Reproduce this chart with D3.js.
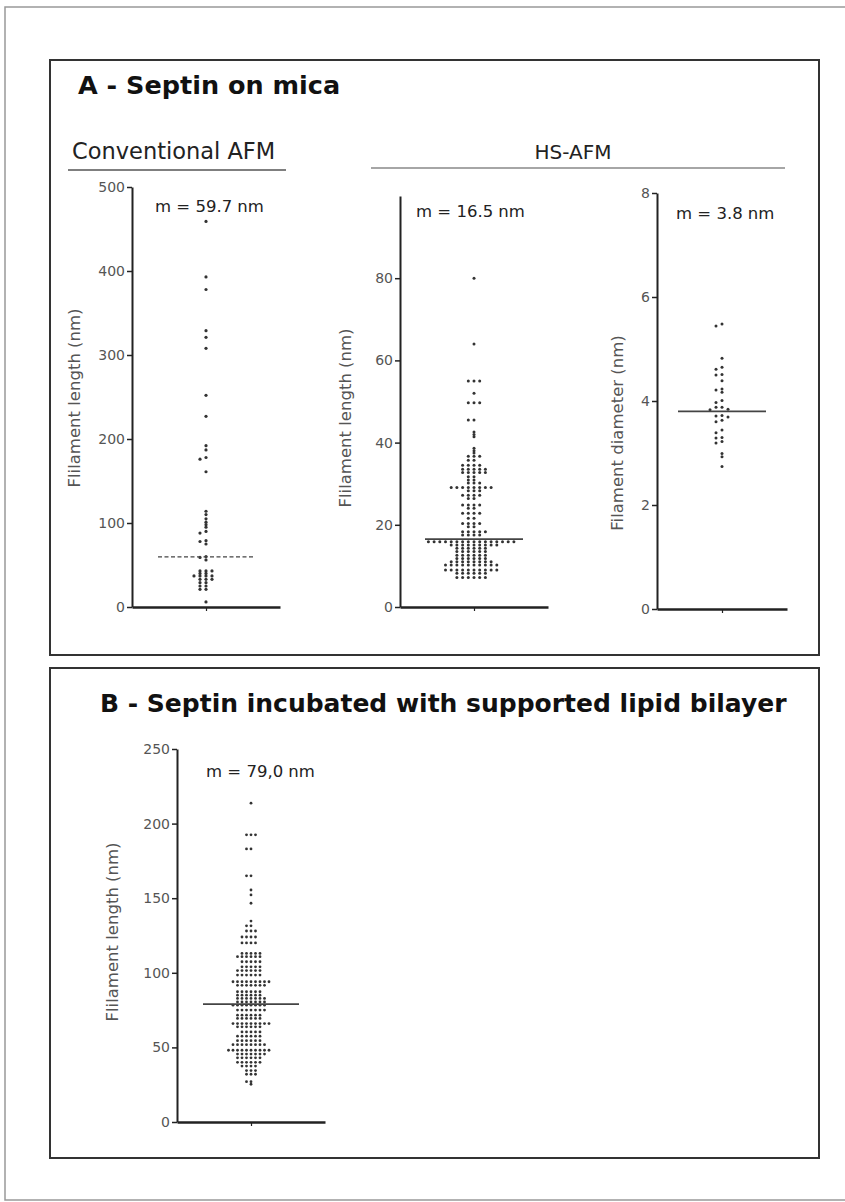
<!DOCTYPE html>
<html>
<head>
<meta charset="utf-8">
<script src="https://cdn.jsdelivr.net/npm/d3@7"></script>
<style>
  body { margin: 0; background: #fff; }
  svg text { font-family: "DejaVu Sans", Verdana, sans-serif; }
</style>
</head>
<body>
<svg id="fig" width="845" height="1202"></svg>
<script>
// values (nm)
var convLength = [459, 393, 378, 329, 321, 308, 252, 227, 192, 187, 178, 176, 161,
  114, 110, 105, 101, 98, 95, 90, 88, 79, 78, 75, 60, 59, 56,
  43, 43, 43, 40, 40, 37, 37, 37, 37, 33, 33, 33, 29, 29, 25, 25, 21, 21, 6];
var convMean = 59.7;

var hsLength = [80, 64, 55, 55, 55, 52, 49.7, 49.7, 49.7, 45.5, 45.5, 42.6, 42, 41.4, 38.6, 38, 37.5,
  36.7, 36.7, 36.7, 35.7, 35.7, 34.5, 34.5, 34.5, 34.5,
  33.5, 33.5, 33.5, 33.5, 33.5, 32.7, 32.7, 32.7, 32.7, 32.7,
  31.7, 31.7, 30.9, 30.9, 30.2, 30.2, 30.2,
  29.1, 29.1, 29.1, 29.1, 29.1, 29.1, 29.1, 29.1, 28.3, 28.3, 28.3,
  27.2, 27.2, 27.2, 27.2, 26.4, 26.4, 24.8, 24.8, 24.8, 24.8, 24, 24,
  22.8, 22.8, 22.8, 22.8, 21.6, 21.6, 20.3, 20.3, 20.3, 20.3, 19.5, 19.5,
  18.3, 18.3, 18.3, 18.3, 18.3, 17.5, 17.5, 17.5, 17.5,
  15.9, 15.9, 15.9, 15.9, 15.9, 15.9, 15.9, 15.9, 15.9, 15.9, 15.9, 15.9, 15.9, 15.9, 15.9, 15.9,
  15.1, 15.1, 15.1, 15.1, 15.1, 15.1, 15.1, 15.1, 15.1,
  14.3, 14.3, 14.3, 14.3, 14.3, 14.3, 13.5, 13.5, 13.5, 13.5, 13.5, 13.5,
  12.6, 12.6, 12.6, 12.6, 12.6, 12.6, 11.8, 11.8, 11.8, 11.8, 11.8, 11.8,
  11, 11, 11, 11, 11, 11, 11, 11,
  10.2, 10.2, 10.2, 10.2, 10.2, 10.2, 10.2, 10.2, 10.2, 10.2,
  9, 9, 9, 9, 9, 9, 9, 9, 9, 9,
  8.2, 8.2, 8.2, 8.2, 8.2, 8.2, 7.2, 7.2, 7.2, 7.2, 7.2, 7.2];
var hsLengthMean = 16.5;

var hsDiameter = [5.48, 5.44, 4.82, 4.65, 4.61, 4.51, 4.5, 4.39, 4.23, 4.21, 4.17, 4.01, 3.97,
  3.88, 3.88, 3.84, 3.83, 3.72, 3.71, 3.69, 3.63, 3.6, 3.44, 3.39, 3.3, 3.29, 3.22, 3.19,
  2.99, 2.93, 2.74];
var hsDiameterMean = 3.8;

var bilayerLength = [213.7, 192.5, 192.5, 192.5, 183, 183, 165, 165, 155.5, 152.2, 146.6, 134.7,
  131.5, 131.5, 128, 128, 128, 124, 124, 124, 124, 120, 120, 120, 120,
  113, 113, 113, 113, 113, 110.8, 110.8, 110.8, 110.8, 110.8, 110.8,
  107.4, 107.4, 107.4, 107.4, 107.4, 104, 104, 104, 104, 104,
  101.5, 101.5, 101.5, 101.5, 101.5, 101.5, 98.5, 98.5, 98.5, 98.5, 98.5, 98.5,
  94, 94, 94, 94, 94, 94, 94, 94, 94, 91.6, 91.6, 91.6, 91.6, 91.6, 91.6, 91.6,
  87.3, 87.3, 87.3, 87.3, 87.3, 87.3, 85, 85, 85, 85, 85, 85,
  82.8, 82.8, 82.8, 82.8, 82.8, 82.8, 82.8, 80.5, 80.5, 80.5, 80.5, 80.5, 80.5, 80.5,
  78.3, 78.3, 78.3, 78.3, 78.3, 78.3, 78.3, 78.3, 75, 75, 75, 75, 75, 75, 75,
  71.6, 71.6, 71.6, 71.6, 71.6, 71.6, 69.4, 69.4, 69.4, 69.4, 69.4, 69.4,
  66, 66, 66, 66, 66, 66, 66, 66, 66, 63.8, 63.8, 63.8, 63.8, 63.8, 63.8,
  60.4, 60.4, 60.4, 60.4, 60.4, 57.5, 57.5, 57.5, 57.5, 57.5, 57.5,
  54.5, 54.5, 54.5, 54.5, 54.5, 54.5, 51.8, 51.8, 51.8, 51.8, 51.8, 51.8, 51.8, 51.8,
  48.1, 48.1, 48.1, 48.1, 48.1, 48.1, 48.1, 48.1, 48.1, 48.1,
  45.5, 45.5, 45.5, 45.5, 45.5, 45.5, 45.5, 43, 43, 43, 43, 43, 43,
  40, 40, 40, 40, 40, 40, 37.5, 37.5, 37.5, 37.5, 34.5, 34.5, 34.5, 32, 32, 32, 27, 27, 25.3];
var bilayerMean = 79.0;

var convTicks = [0, 100, 200, 300, 400, 500];
var hsLengthTicks = [0, 20, 40, 60, 80];
var hsDiameterTicks = [0, 2, 4, 6, 8];
var bilayerTicks = [0, 50, 100, 150, 200, 250];

var svg = d3.select("#fig");

// frames
svg.append("rect").attr("x", 5).attr("y", 7).attr("width", 850).attr("height", 1193)
  .attr("fill", "none").attr("stroke", "#999").attr("stroke-width", 1.5);
svg.append("rect").attr("x", 50).attr("y", 60).attr("width", 769).attr("height", 595)
  .attr("fill", "none").attr("stroke", "#333").attr("stroke-width", 2);
svg.append("rect").attr("x", 50).attr("y", 668).attr("width", 769).attr("height", 490)
  .attr("fill", "none").attr("stroke", "#333").attr("stroke-width", 2);

svg.append("text").attr("x", 78).attr("y", 94).attr("font-size", 25.5).attr("font-weight", "bold")
  .attr("fill", "#111").text("A - Septin on mica");
svg.append("text").attr("x", 100).attr("y", 712).attr("font-size", 25).attr("font-weight", "bold")
  .attr("fill", "#111").text("B - Septin incubated with supported lipid bilayer");

svg.append("text").attr("x", 72).attr("y", 159).attr("font-size", 22.5).attr("fill", "#222")
  .text("Conventional AFM");
svg.append("line").attr("x1", 68).attr("x2", 286).attr("y1", 170).attr("y2", 170)
  .attr("stroke", "#555").attr("stroke-width", 1.5);
svg.append("text").attr("x", 573).attr("y", 159).attr("font-size", 20).attr("fill", "#222")
  .attr("text-anchor", "middle").text("HS-AFM");
svg.append("line").attr("x1", 371).attr("x2", 785).attr("y1", 168).attr("y2", 168)
  .attr("stroke", "#888").attr("stroke-width", 1.5);

// Prism-like dot rows: first point centered, then alternate left/right
function dotRows(values, y, rowH, gap) {
  var sorted = values.slice().sort(function (a, b) { return b - a; });
  var out = [], group = [], startY = null;
  function flush() {
    group.forEach(function (v, i) {
      var k = i === 0 ? 0 : (i % 2 ? -(i + 1) / 2 : i / 2);
      out.push({ v: v, dx: k * gap });
    });
    group = [];
  }
  sorted.forEach(function (v) {
    var py = y(v);
    if (startY === null || py - startY > rowH) { flush(); startY = py; }
    group.push(v);
  });
  flush();
  return out;
}

function dotPlot(o) {
  var g = svg.append("g");
  var y = d3.scaleLinear().domain(o.domain).range([o.y0, o.yTop]);
  var x = d3.scalePoint().domain([o.name]).range([o.x0, o.x1]).padding(0.5);
  var cx = x(o.name);

  var yAxis = d3.axisLeft(y).tickValues(o.ticks).tickSize(5).tickSizeOuter(0).tickPadding(2);
  var ya = g.append("g").attr("transform", "translate(" + o.x0 + ",0)").call(yAxis);
  ya.select(".domain").attr("stroke", "#222").attr("stroke-width", 2);
  ya.selectAll(".tick line").attr("stroke", "#222").attr("stroke-width", 1.5);
  ya.selectAll(".tick text").attr("font-size", 14).attr("fill", "#555")
    .attr("font-family", "'DejaVu Sans', sans-serif");

  var xAxis = d3.axisBottom(x).tickSize(4).tickSizeOuter(0).tickFormat("");
  var xa = g.append("g").attr("transform", "translate(0," + o.y0 + ")").call(xAxis);
  xa.select(".domain").attr("stroke", "#222").attr("stroke-width", 2.5);
  xa.selectAll(".tick line").attr("stroke", "#222").attr("stroke-width", 1.2);

  var dots = dotRows(o.values, y, o.rowH, o.gap);
  g.selectAll("circle").data(dots).enter().append("circle")
    .attr("cx", function (d) { return cx + d.dx; })
    .attr("cy", function (d) { return y(d.v); })
    .attr("r", o.r).attr("fill", "#333");

  g.append("line").attr("x1", cx - o.meanHalf).attr("x2", cx + o.meanHalf)
    .attr("y1", y(o.mean)).attr("y2", y(o.mean))
    .attr("stroke", "#444").attr("stroke-width", o.dashed ? 1.3 : 1.8)
    .attr("stroke-dasharray", o.dashed ? "4,2.5" : null);

  g.append("text").attr("x", o.mx).attr("y", o.my).attr("font-size", 16.5).attr("fill", "#222")
    .text(o.mLabel);

  g.append("text").attr("transform", "translate(" + o.lx + "," + o.ly + ") rotate(-90)")
    .attr("text-anchor", "middle").attr("font-size", o.lSize).attr("fill", "#555")
    .text(o.label);
}

dotPlot({ name: "conv", values: convLength, mean: convMean, domain: [0, 500], ticks: convTicks,
  x0: 132, x1: 280, y0: 607, yTop: 187, rowH: 2, gap: 6, r: 1.6, meanHalf: 48, dashed: true,
  mx: 155, my: 212, mLabel: "m = 59.7 nm",
  lx: 80, ly: 398, lSize: 16.5, label: "Flilament length (nm)" });

dotPlot({ name: "hsl", values: hsLength, mean: hsLengthMean, domain: [0, 100], ticks: hsLengthTicks,
  x0: 400, x1: 548, y0: 607, yTop: 196, rowH: 2, gap: 5.7, r: 1.5, meanHalf: 49,
  mx: 416, my: 217, mLabel: "m = 16.5 nm",
  lx: 351, ly: 418, lSize: 16.5, label: "Flilament length (nm)" });

dotPlot({ name: "hsd", values: hsDiameter, mean: hsDiameterMean, domain: [0, 8], ticks: hsDiameterTicks,
  x0: 657, x1: 787, y0: 609, yTop: 193, rowH: 3, gap: 6, r: 1.5, meanHalf: 44,
  mx: 676, my: 219, mLabel: "m = 3.8 nm",
  lx: 623, ly: 433, lSize: 16.5, label: "Filament diameter (nm)" });

dotPlot({ name: "bil", values: bilayerLength, mean: bilayerMean, domain: [0, 250], ticks: bilayerTicks,
  x0: 177, x1: 325, y0: 1122, yTop: 749, rowH: 2, gap: 4.5, r: 1.4, meanHalf: 48,
  mx: 206, my: 777, mLabel: "m = 79,0 nm",
  lx: 118, ly: 932, lSize: 16.5, label: "Flilament length (nm)" });
</script>
</body>
</html>
